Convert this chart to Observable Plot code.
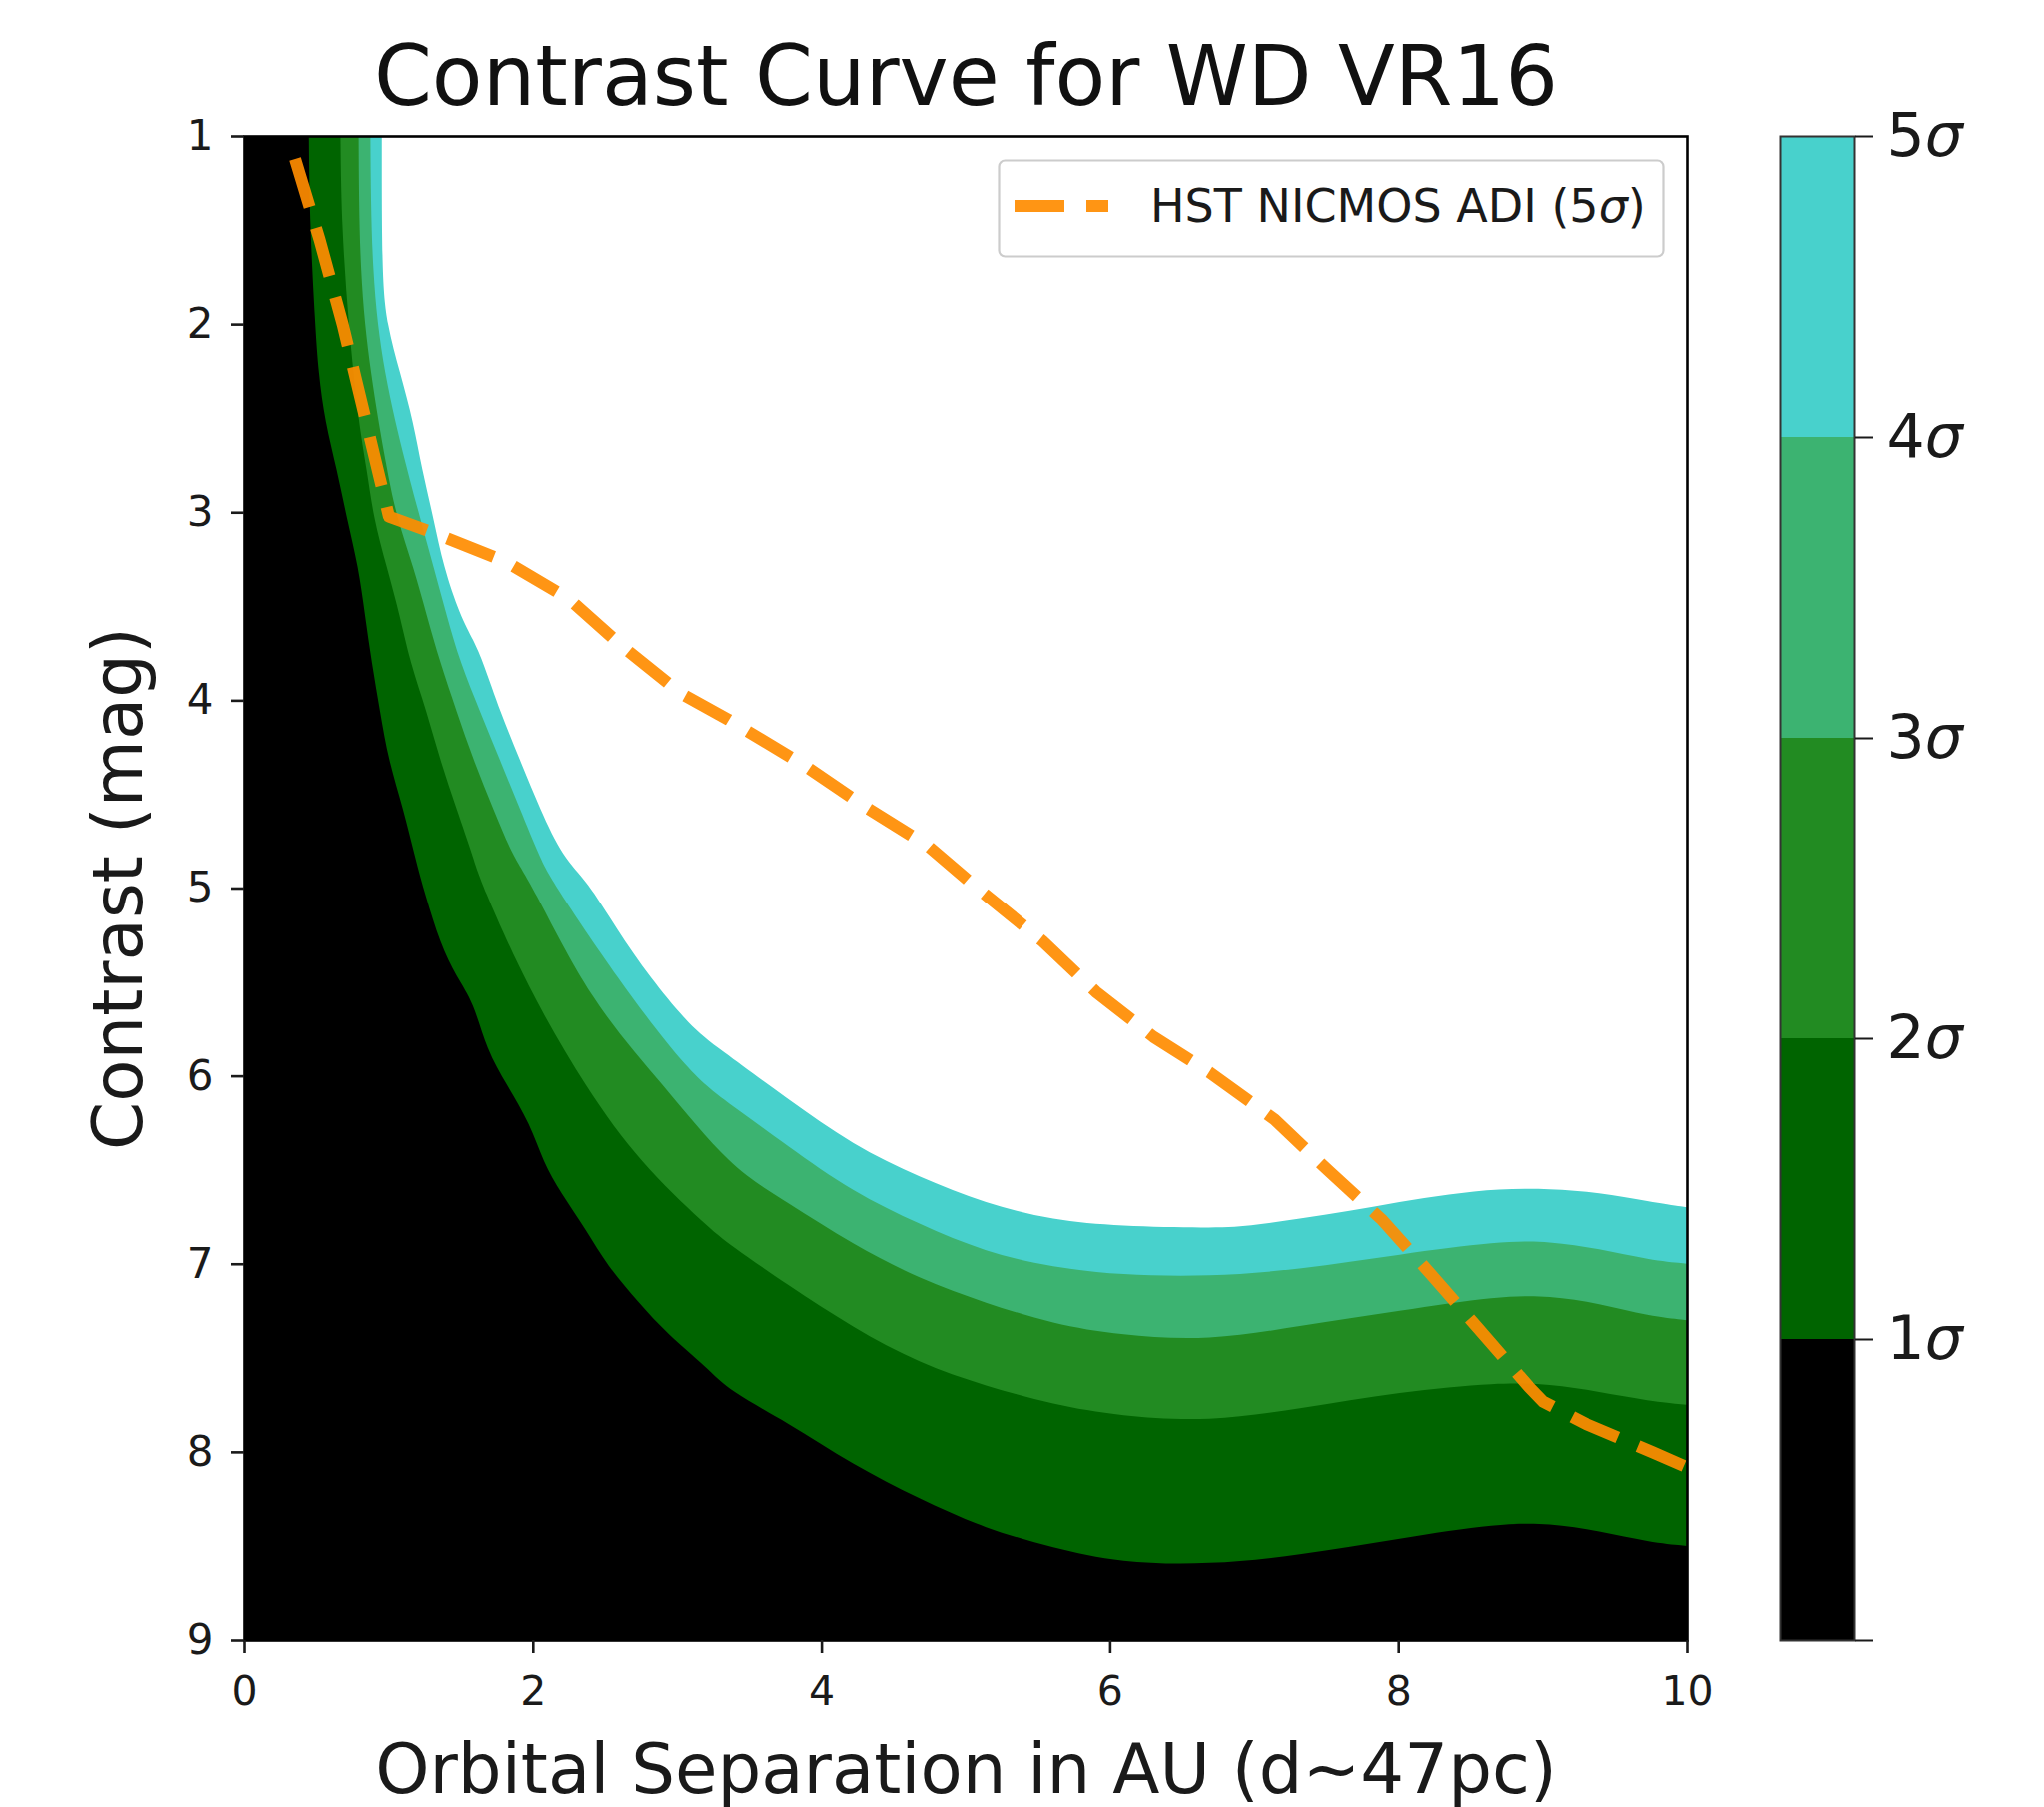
<!DOCTYPE html>
<html><head><meta charset="utf-8">
<script src="https://cdn.jsdelivr.net/npm/d3@7"></script>
<script src="https://cdn.jsdelivr.net/npm/@observablehq/plot@0.6"></script>
<style>
body{margin:0;background:#fff;}
#wrap{position:relative;width:2045px;height:1808px;font-family:"DejaVu Sans";background:#fff;}
#wrap > svg{position:absolute;top:0;}
</style></head><body><div id="wrap"></div>
<script>
// ---- data ----
const titleText = "Contrast Curve for WD VR16";
const xLabel = "Orbital Separation in AU (d~47pc)";
const yLabel = "Contrast (mag)";
const xTicks = [0, 2, 4, 6, 8, 10];
const yTicks = [1, 2, 3, 4, 5, 6, 7, 8, 9];
const sigmaLevels = [1, 2, 3, 4, 5];
const sigmaColors = ["#000000", "#006400", "#228B22", "#3CB371", "#48D1CC"];
const legendLabel = "HST NICMOS ADI (5σ)";

// contour boundaries (separation AU, contrast mag), starting where each leaves the top edge
const sig1X = [0.446, 0.457, 0.492, 0.515, 0.561, 0.642, 0.711, 0.792, 0.838, 0.884, 0.942, 1.0, 1.104, 1.185, 1.254, 1.358, 1.473, 1.589, 1.681, 1.82, 1.981, 2.074, 2.19, 2.374, 2.512, 2.743, 2.928, 3.205, 3.367, 3.76, 4.22, 4.68, 5.14, 5.61, 6.07, 6.69, 7.32, 8.01, 8.70, 9.05, 9.39, 9.74, 10];
const sig1Y = [1, 1.49, 2.0, 2.26, 2.52, 2.77, 3.03, 3.29, 3.55, 3.80, 4.06, 4.32, 4.58, 4.84, 5.035, 5.295, 5.476, 5.606, 5.865, 6.047, 6.255, 6.462, 6.618, 6.825, 7.007, 7.215, 7.37, 7.55, 7.68, 7.84, 8.07, 8.25, 8.41, 8.51, 8.59, 8.60, 8.55, 8.46, 8.38, 8.38, 8.42, 8.48, 8.50];

const sig2X = [0.665, 0.677, 0.723, 0.792, 0.85, 0.896, 0.988, 1.08, 1.15, 1.266, 1.358, 1.473, 1.589, 1.635, 1.96, 2.374, 2.743, 3.205, 3.367, 3.76, 4.22, 4.68, 5.14, 5.61, 6.07, 6.69, 7.32, 8.01, 8.70, 9.05, 9.39, 9.74, 10];
const sig2Y = [1, 1.49, 2.0, 2.52, 2.77, 3.03, 3.29, 3.55, 3.80, 4.06, 4.32, 4.58, 4.84, 4.96, 5.528, 6.073, 6.462, 6.80, 6.90, 7.11, 7.34, 7.53, 7.65, 7.75, 7.81, 7.84, 7.77, 7.68, 7.63, 7.64, 7.68, 7.73, 7.75];

const sig3X = [0.792, 0.80, 0.873, 0.988, 1.058, 1.173, 1.266, 1.358, 1.473, 1.589, 1.727, 1.866, 1.981, 2.397, 2.905, 3.367, 3.76, 4.22, 4.68, 5.14, 5.61, 6.07, 6.69, 7.32, 8.01, 8.70, 9.05, 9.39, 9.74, 10];
const sig3Y = [1, 1.74, 2.26, 2.77, 3.03, 3.29, 3.55, 3.80, 4.06, 4.32, 4.58, 4.84, 4.96, 5.606, 6.047, 6.49, 6.67, 6.90, 7.08, 7.21, 7.32, 7.38, 7.41, 7.33, 7.25, 7.17, 7.17, 7.21, 7.28, 7.30];

const sig4X = [0.873, 0.884, 0.965, 1.127, 1.22, 1.312, 1.404, 1.497, 1.635, 1.773, 1.912, 2.05, 2.13, 2.58, 3.09, 3.367, 3.76, 4.22, 4.68, 5.14, 5.61, 6.07, 6.69, 7.32, 8.01, 8.70, 9.05, 9.39, 9.74, 10];
const sig4Y = [1, 1.74, 2.26, 2.77, 3.03, 3.29, 3.55, 3.80, 4.06, 4.32, 4.58, 4.84, 4.96, 5.476, 5.995, 6.15, 6.37, 6.62, 6.79, 6.94, 7.02, 7.06, 7.07, 7.03, 6.95, 6.88, 6.88, 6.92, 6.98, 7.00];

const sig5X = [0.954, 0.954, 0.988, 1.081, 1.173, 1.231, 1.312, 1.381, 1.497, 1.589, 1.658, 1.773, 1.912, 2.05, 2.21, 2.374, 2.58, 2.81, 3.09, 3.28, 3.76, 4.22, 4.68, 5.14, 5.61, 6.07, 6.69, 6.97, 7.32, 7.66, 8.01, 8.35, 8.70, 9.05, 9.39, 9.74, 10];
const sig5Y = [1, 1.74, 2.0, 2.26, 2.52, 2.77, 3.03, 3.29, 3.55, 3.68, 3.80, 4.06, 4.32, 4.58, 4.84, 4.96, 5.217, 5.476, 5.736, 5.85, 6.12, 6.37, 6.54, 6.68, 6.77, 6.80, 6.81, 6.80, 6.76, 6.72, 6.67, 6.63, 6.60, 6.60, 6.62, 6.67, 6.70];

// HST NICMOS ADI 5-sigma curve
const hstX = [0.35, 0.52, 0.68, 1.0, 1.32, 1.81, 2.25, 2.60, 3.02, 3.35, 3.89, 4.31, 4.73, 5.05, 5.53, 5.90, 6.30, 6.69, 7.14, 7.51, 7.88, 8.22, 8.55, 8.90, 9.00, 9.30, 9.76, 10.0];
const hstY = [1.12, 1.55, 2.0, 3.02, 3.11, 3.26, 3.46, 3.70, 3.96, 4.10, 4.35, 4.57, 4.77, 4.98, 5.28, 5.55, 5.79, 5.98, 6.23, 6.50, 6.76, 7.05, 7.34, 7.65, 7.73, 7.85, 8.00, 8.08];

// ---- build ----
const W = 2045, H = 1808;
const mL = 244, mR = W - 1688, mT = 136, mB = H - 1641;
const FONT = "DejaVu Sans";
const boundaries = [
  {X: sig5X, Y: sig5Y, color: sigmaColors[4]},
  {X: sig4X, Y: sig4Y, color: sigmaColors[3]},
  {X: sig3X, Y: sig3Y, color: sigmaColors[2]},
  {X: sig2X, Y: sig2Y, color: sigmaColors[1]},
  {X: sig1X, Y: sig1Y, color: sigmaColors[0]}
];
const hst = hstX.map((x, i) => ({x, y: hstY[i]}));

const marks = [];
for (const b of boundaries) {
  const d = b.X.map((x, i) => ({x, y: b.Y[i]}));
  // extend above the top edge (clipped away) so the filled region reaches the frame top
  const top = [{x: 0, y: 0}, {x: b.X[0], y: 0}];
  marks.push(Plot.areaY(top.concat(d), {x: "x", y1: "y", y2: 9, fill: b.color, curve: "basis", clip: true}));
}
marks.push(Plot.line(hst, {x: "x", y: "y", stroke: "#FF8C00", strokeOpacity: 0.92, strokeWidth: 12,
  strokeDasharray: "50,22", strokeLinecap: "butt", strokeLinejoin: "round", clip: true}));
marks.push(Plot.frame({stroke: "#000", strokeWidth: 2.6}));
marks.push(Plot.axisX({ticks: xTicks, tickSize: 13, tickPadding: 22, fontSize: 41, strokeWidth: 2.6, color: "#1a1a1a", label: null, tickFormat: d => String(d)}));
marks.push(Plot.axisY({ticks: yTicks, tickSize: 13, tickPadding: 18, fontSize: 42, strokeWidth: 2.6, color: "#1a1a1a", label: null, tickFormat: d => String(d)}));
marks.push(Plot.text([titleText], {text: d => d, frameAnchor: "top", dy: 104 - mT, textAnchor: "middle", lineAnchor: "bottom", fontSize: 83, fill: "#111"}));
marks.push(Plot.text([xLabel], {text: d => d, frameAnchor: "bottom", dy: 1793 - 1641, textAnchor: "middle", lineAnchor: "bottom", fontSize: 69, fill: "#1a1a1a"}));
marks.push(Plot.text([yLabel], {text: d => d, frameAnchor: "left", dx: 141 - mL, rotate: -90, textAnchor: "middle", lineAnchor: "bottom", fontSize: 69, fill: "#1a1a1a"}));

const main = Plot.plot({
  width: W, height: H,
  marginLeft: mL, marginRight: mR, marginTop: mT, marginBottom: mB,
  style: {fontFamily: FONT, background: "white", overflow: "visible"},
  x: {domain: [0, 10]},
  y: {domain: [1, 9], reverse: true},
  marks
});
main.style.left = "0px";
document.getElementById("wrap").appendChild(main);

// ---- colorbar ----
const cbL = 1781, cbR = 1855;
const cbData = sigmaLevels.map((k, i) => ({lo: k - 1, hi: k, color: sigmaColors[i]}));
const cb = Plot.plot({
  width: W - cbL, height: H,
  marginLeft: 0, marginRight: W - cbR, marginTop: mT, marginBottom: mB,
  style: {fontFamily: FONT, background: "transparent", overflow: "visible"},
  x: {domain: [0, 1], axis: null},
  y: {domain: [0, 5]},
  color: {type: "identity"},
  marks: [
    Plot.rect(cbData, {x1: 0, x2: 1, y1: "lo", y2: "hi", fill: "color"}),
    Plot.frame({stroke: "#333", strokeWidth: 2}),
    Plot.axisY({anchor: "right", ticks: [0, ...sigmaLevels], tickSize: 18, tickPadding: 14, fontSize: 60, strokeWidth: 2, color: "#1a1a1a", label: null,
      tickFormat: d => d === 0 ? "" : d + "σ"})
  ]
});
cb.style.left = cbL + "px";
document.getElementById("wrap").appendChild(cb);
const NS = "http://www.w3.org/2000/svg";
cb.querySelectorAll("text").forEach(t => {
  const s = t.textContent;
  if (s.endsWith("σ")) {
    t.textContent = s.slice(0, -1);
    const ts = document.createElementNS(NS, "tspan");
    ts.setAttribute("font-style", "italic");
    ts.textContent = "σ";
    t.appendChild(ts);
  }
});

// ---- legend ----
const lg = document.createElementNS(NS, "svg");
lg.setAttribute("width", 670); lg.setAttribute("height", 100);
lg.style.left = "998px"; lg.style.top = "159px";
lg.innerHTML = `<rect x="1.5" y="1.5" width="665" height="96" rx="6" fill="white" fill-opacity="0.85" stroke="#cccccc" stroke-width="2.2"/>
<line x1="17" y1="47" x2="111" y2="47" stroke="#FF8C00" stroke-opacity="0.92" stroke-width="12" stroke-dasharray="50,22"/>
<text x="153" y="63" font-family="${FONT}" font-size="46" fill="#1a1a1a"></text>`;
const lt = lg.querySelector("text");
lt.textContent = legendLabel.slice(0, -2);
const tsp = document.createElementNS(NS, "tspan"); tsp.setAttribute("font-style", "italic"); tsp.textContent = "σ";
lt.appendChild(tsp); lt.appendChild(document.createTextNode(")"));
document.getElementById("wrap").appendChild(lg);
</script></body></html>
